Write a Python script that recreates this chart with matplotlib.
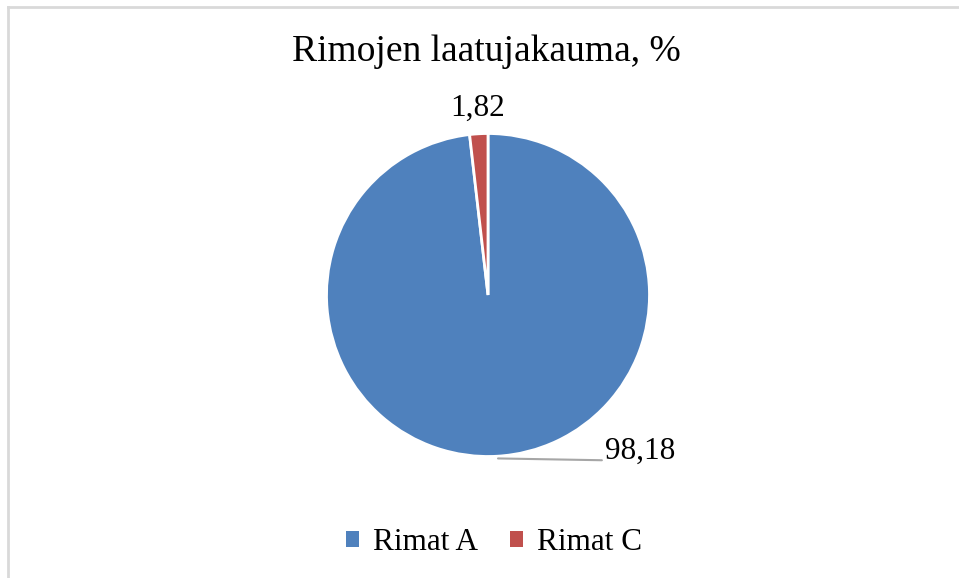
import numpy as np
import matplotlib
matplotlib.use('Agg')
import matplotlib.pyplot as plt
from matplotlib.lines import Line2D
from matplotlib.patches import Patch

categories = ['Rimat A', 'Rimat C']
values = [98.18, 1.82]
labels = ['98,18', '1,82']
colors = ['#4F81BD', '#C0504D']
title = 'Rimojen laatujakauma, %'

plt.rcParams['font.family'] = ['Liberation Serif', 'DejaVu Serif']

W, H = 959, 578
fig = plt.figure(figsize=(W / 100, H / 100), dpi=100)

# pie axes: centre (488, 295) px from top, radius ~161.5 px
r = 161.5
cx, cy = 488, 295
ax = fig.add_axes([(cx - r) / W, (H - cy - r) / H, 2 * r / W, 2 * r / H])
ax.pie(values, colors=colors, startangle=90, counterclock=False,
       wedgeprops=dict(edgecolor='white', linewidth=2), radius=1)
ax.set_xlim(-1, 1)
ax.set_ylim(-1, 1)
ax.set_aspect('equal')
ax.axis('off')

# small slice label placed outside along its mid angle
ang = np.deg2rad(90 + values[1] / sum(values) * 360 / 2)
ax.text(1.16 * np.cos(ang), 1.16 * np.sin(ang), labels[1], ha='center', va='center',
        fontsize=22.5)

# big slice label with leader line
ax.annotate(labels[0], xy=(0.062, -1.012), xytext=(0.94, -0.966),
            ha='center', va='center', fontsize=22.5, annotation_clip=False,
            arrowprops=dict(arrowstyle='-', color='#A6A6A6', lw=1.5,
                            shrinkA=0, shrinkB=0, relpos=(0, 0.18)))

fig.text(0.5 * (290 + 683) / W, 1 - 52 / H, title, ha='center', va='center', fontsize=27)

handles = [Patch(facecolor=c, edgecolor='none') for c in colors]
fig.legend(handles, categories, loc='center', bbox_to_anchor=(494 / W, 1 - 543 / H),
           ncol=2, frameon=False, fontsize=22.5, handlelength=0.42, handleheight=0.42,
           handletextpad=0.45, columnspacing=1.0)

# outer chart border (only top and left visible in the crop)
fig.add_artist(Line2D([7.5 / W, 1], [1 - 7 / H, 1 - 7 / H], color='#D9D9D9', lw=2,
                      transform=fig.transFigure))
fig.add_artist(Line2D([7.5 / W, 7.5 / W], [0, 1 - 7 / H], color='#D9D9D9', lw=2,
                      transform=fig.transFigure))

fig.savefig('out.png', dpi=100)
